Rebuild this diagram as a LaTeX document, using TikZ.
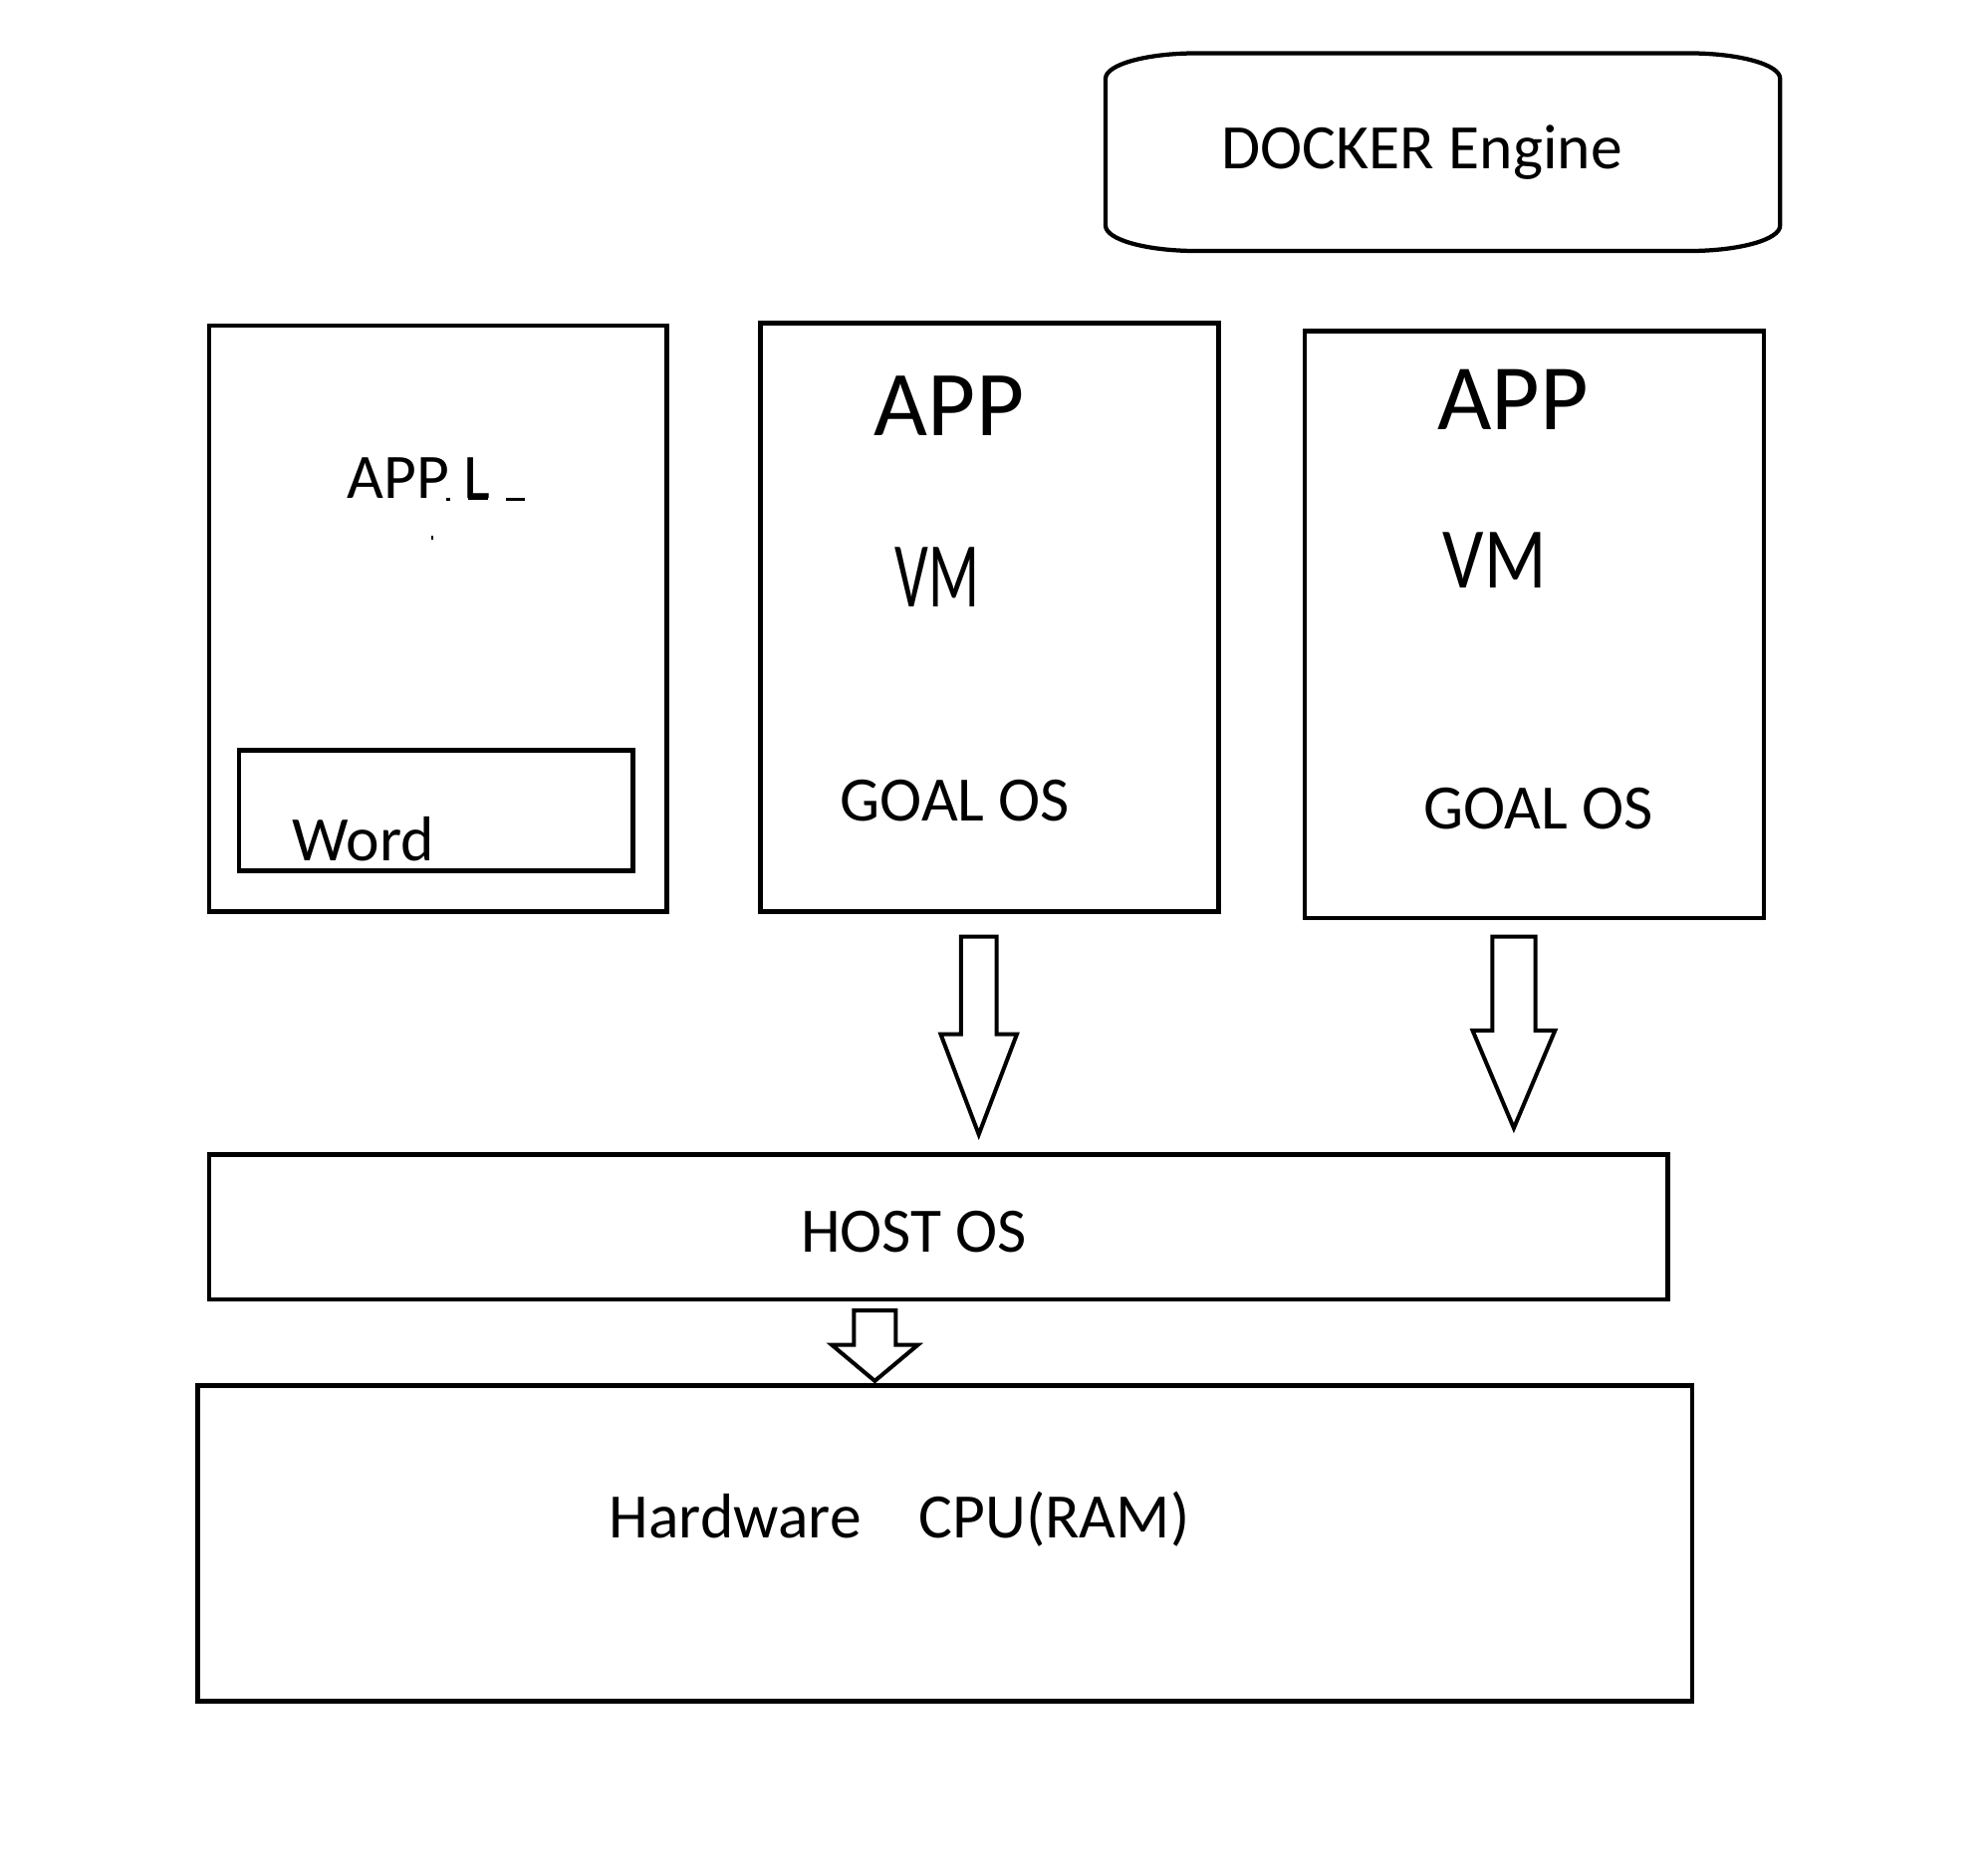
\documentclass[tikz,border=0pt]{standalone}
\usepackage{fontspec}
\setmainfont{Carlito}
\usetikzlibrary{calc}
\begin{document}
\begin{tikzpicture}[x=0.01cm,y=-0.01cm,
  box/.style={draw,line width=1.05pt,inner sep=0pt,outer sep=0pt,anchor=north west},
  txt/.style={inner sep=0pt,anchor=base west,font=\fontsize{14.2}{17}\selectfont},
  bigtxt/.style={inner sep=0pt,anchor=base west,font=\fontsize{20.8}{24}\selectfont},
  arrline/.style={draw,line width=0.9pt,line join=miter},
  pics/blockdown/.style n args={4}{code={
    \draw[arrline] (-#1,0) -- (#1,0) -- (#1,#3) -- (#2,#3) -- (0,#4) -- (-#2,#3) -- (-#1,#3) -- cycle;}}
]
\useasboundingbox[fill=white] (0,0) rectangle (1568,1473);

% Docker engine outline
\draw[line width=0.95pt] (944,42) -- (1332,42)
  .. controls (1372,42) and (1404,51) .. (1404,62) -- (1404,178)
  .. controls (1404,189) and (1372,198) .. (1332,198) -- (944,198)
  .. controls (904,198) and (872,189) .. (872,178) -- (872,62)
  .. controls (872,51) and (904,42) .. (944,42) -- cycle;
\node[txt] (docker) at (963,133) {DOCKER Engine};

% left box
\node[box,minimum width=3.61cm,minimum height=4.62cm] (left) at (165,257) {};
\node[txt] (appl) at (273,393) {APP L};
\fill (352,393) rectangle (355,395);
\fill (369,393) rectangle (385,394.5);
\fill (399,393) rectangle (414,395);
\fill (340.5,422.5) rectangle (341.5,425.5);
\node[box,minimum width=3.105cm,minimum height=0.95cm] (wordbox) at (188.5,592) {};
\node[txt] (word) at (230,679.5) {Word};

% middle VM box
\node[box,minimum width=3.61cm,minimum height=4.64cm] (vma) at (600,255) {};
\node[bigtxt] (appa) at (689,344) {APP};
\node[inner sep=0pt,anchor=base west,font=\fontsize{20.8}{24}\selectfont] (vmla) at (705,479) {\scalebox{0.64}[1]{VM}};
\node[txt] (goala) at (662,648) {GOAL OS};

% right VM box
\node[box,minimum width=3.62cm,minimum height=4.63cm] (vmb) at (1029,261) {};
\node[inner sep=0pt,anchor=base west,font=\fontsize{21}{24}\selectfont] (appb) at (1133,339) {APP};
\node[inner sep=0pt,anchor=base west,font=\fontsize{19.4}{22}\selectfont] (vmlb) at (1137.5,463.5) {\scalebox{0.84}[1]{VM}};
\node[txt] (goalb) at (1122,654) {GOAL OS};

% host OS
\node[box,minimum width=11.5cm,minimum height=1.14cm] (host) at (165,911) {};
\node[txt] (hosttxt) at (631,988) {HOST OS};

% hardware
\node[box,minimum width=11.78cm,minimum height=2.49cm] (hw) at (156,1093) {};
\node[txt] (hwtxt) at (480,1213) {Hardware};
\node[txt] (cputxt) at (724,1213) {CPU(RAM)};

% block arrows
\pic at (772,739) {blockdown={14}{30}{77}{156}};
\pic at (1194,739) {blockdown={17}{32.5}{74}{151}};
\pic at (690,1034) {blockdown={16.5}{34}{27}{55.5}};
\end{tikzpicture}
\end{document}
